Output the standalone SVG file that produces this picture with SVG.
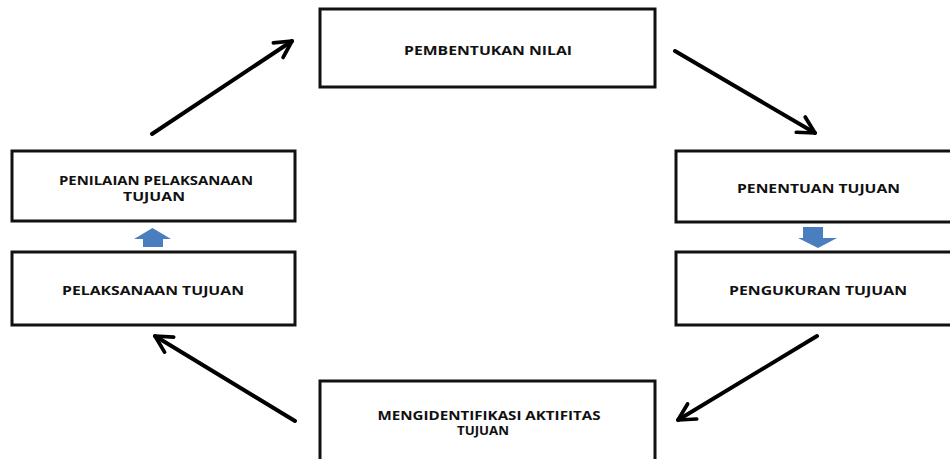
<svg xmlns="http://www.w3.org/2000/svg" width="950" height="459" viewBox="0 0 950 459">
<style>
.box{fill:#fff;stroke:#111;stroke-width:3}
.t{font-family:"Open Sans","Liberation Sans",Arial,sans-serif;font-weight:bold;font-size:11.5px;fill:#111;text-anchor:middle}
.conn{stroke:#000;stroke-width:4;fill:none;stroke-linecap:round}
.blk{fill:#4a7ebf}
</style>
<defs>
<marker id="ah" viewBox="0 0 10 10" refX="8.5" refY="5" markerWidth="5.5" markerHeight="5.5" orient="auto" markerUnits="strokeWidth">
<path d="M1,1 L8.5,5 L1,9" fill="none" stroke="#000" stroke-width="1.7" stroke-linecap="round" stroke-linejoin="round"/>
</marker>
</defs>
<rect width="950" height="459" fill="#fff"/>
<g id="n1"><rect class="box" x="320" y="9" width="335" height="78"/><text class="t" x="488" y="55" textLength="168" lengthAdjust="spacingAndGlyphs">PEMBENTUKAN NILAI</text></g>
<g id="n2"><rect class="box" x="676" y="151" width="280" height="71"/><text class="t" x="818.5" y="193" textLength="163" lengthAdjust="spacingAndGlyphs">PENENTUAN TUJUAN</text></g>
<g id="n3"><rect class="box" x="676" y="252" width="280" height="73"/><text class="t" x="818" y="295" textLength="178" lengthAdjust="spacingAndGlyphs">PENGUKURAN TUJUAN</text></g>
<g id="n4"><rect class="box" x="320" y="381" width="335" height="85"/><text class="t" x="489" y="420" textLength="223" lengthAdjust="spacingAndGlyphs">MENGIDENTIFIKASI AKTIFITAS</text><text class="t" x="483" y="435" textLength="52" lengthAdjust="spacingAndGlyphs">TUJUAN</text></g>
<g id="n5"><rect class="box" x="12" y="252" width="283" height="73"/><text class="t" x="153" y="295" textLength="182" lengthAdjust="spacingAndGlyphs">PELAKSANAAN TUJUAN</text></g>
<g id="n6"><rect class="box" x="12" y="151" width="283" height="70"/><text class="t" x="156" y="185" textLength="194" lengthAdjust="spacingAndGlyphs">PENILAIAN PELAKSANAAN</text><text class="t" x="154" y="201" textLength="62" lengthAdjust="spacingAndGlyphs">TUJUAN</text></g>
<g id="connectors">
<line class="conn" x1="152" y1="134" x2="292" y2="41" marker-end="url(#ah)"/>
<line class="conn" x1="675" y1="51" x2="815" y2="133" marker-end="url(#ah)"/>
<line class="conn" x1="817" y1="336" x2="678" y2="420" marker-end="url(#ah)"/>
<line class="conn" x1="295" y1="421" x2="155" y2="336" marker-end="url(#ah)"/>
<polygon class="blk" points="152.5,228 171,239 163,239 163,247 143,247 143,239 134,239"/>
<polygon class="blk" points="803,227 823,227 823,238 837,238 818,248 798,238 803,238"/>
</g>
</svg>
